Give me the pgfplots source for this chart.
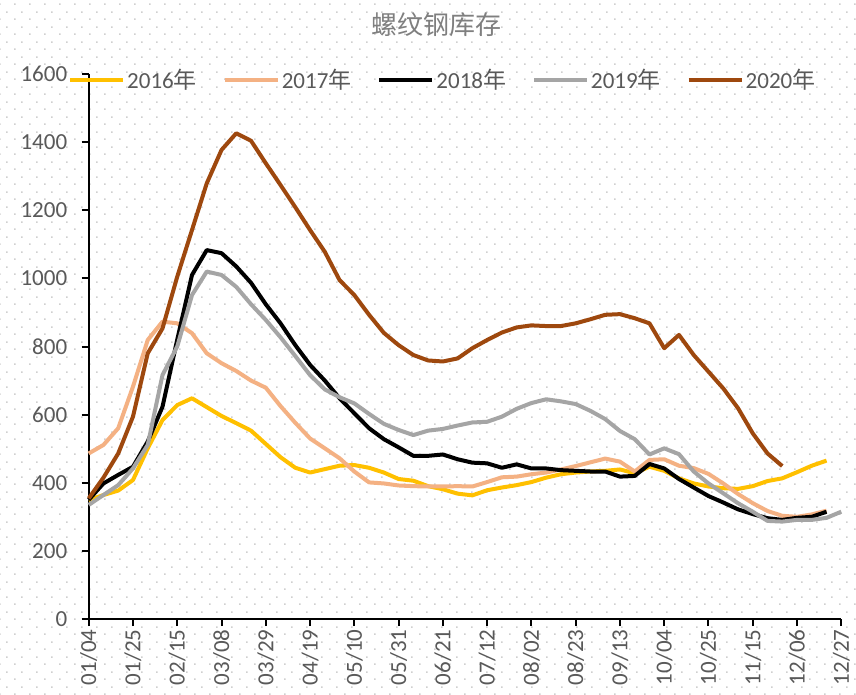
\documentclass[border=0pt]{standalone}
\usepackage{fontspec}
\setmainfont{Carlito}
\newfontfamily\cjk{Noto Sans CJK SC}
\usepackage{pgfplots}
\pgfplotsset{compat=1.18}
\usepackage{pgfplotstable}
\usetikzlibrary{patterns}

\definecolor{c16}{HTML}{FFC000}
\definecolor{c17}{HTML}{F4B183}
\definecolor{c18}{HTML}{000000}
\definecolor{c19}{HTML}{A5A5A5}
\definecolor{c20}{HTML}{9E480E}
\definecolor{labc}{HTML}{595959}
\definecolor{titc}{HTML}{7F7F7F}
\definecolor{dotc}{HTML}{CFCFCF}

% Excel-style dotted chart background
\pgfdeclarepatternformonly{xldots}{\pgfqpoint{0pt}{0pt}}{\pgfqpoint{15pt}{15pt}}{\pgfqpoint{15pt}{15pt}}{%
  \pgfpathrectangle{\pgfqpoint{0pt}{0pt}}{\pgfqpoint{1.8pt}{1.8pt}}%
  \pgfpathrectangle{\pgfqpoint{7.5pt}{7.5pt}}{\pgfqpoint{1.8pt}{1.8pt}}%
  \pgfusepath{fill}}

% weekly inventory, one value per week starting 01/04
\pgfplotstableread[row sep=\\]{v\\349\\364\\377\\408\\501\\584\\628\\648\\622\\596\\575\\553\\514\\475\\444\\430\\440\\450\\452\\444\\430\\411\\406\\390\\381\\368\\363\\378\\386\\393\\402\\415\\425\\430\\433\\435\\439\\428\\447\\435\\413\\398\\389\\384\\382\\390\\405\\413\\431\\450\\465\\}\tA
\pgfplotstableread[row sep=\\]{v\\486\\511\\560\\682\\819\\873\\868\\839\\780\\751\\728\\700\\679\\625\\576\\530\\501\\472\\433\\401\\398\\392\\390\\389\\389\\390\\389\\402\\416\\418\\425\\430\\439\\449\\460\\471\\462\\433\\467\\469\\450\\443\\426\\398\\367\\340\\317\\303\\300\\307\\318\\}\tB
\pgfplotstableread[row sep=\\]{v\\350\\398\\423\\447\\521\\623\\820\\1010\\1083\\1074\\1035\\987\\924\\868\\804\\746\\700\\648\\604\\560\\528\\504\\479\\479\\483\\469\\459\\457\\444\\454\\442\\442\\437\\435\\433\\433\\418\\420\\455\\442\\411\\386\\361\\342\\322\\308\\296\\291\\297\\300\\315\\}\tC
\pgfplotstableread[row sep=\\]{v\\335\\364\\393\\442\\511\\716\\800\\951\\1020\\1010\\975\\924\\878\\827\\772\\716\\674\\651\\633\\602\\573\\555\\540\\553\\558\\568\\577\\579\\594\\617\\634\\645\\639\\631\\611\\587\\552\\528\\483\\501\\484\\433\\398\\369\\340\\315\\288\\286\\291\\291\\297\\315\\}\tD
\pgfplotstableread[row sep=\\]{v\\354\\415\\486\\594\\780\\853\\1005\\1142\\1279\\1377\\1426\\1404\\1338\\1274\\1209\\1142\\1078\\995\\951\\893\\840\\804\\775\\759\\756\\765\\795\\819\\841\\856\\862\\860\\860\\868\\880\\893\\895\\883\\868\\795\\834\\775\\726\\677\\619\\545\\486\\449\\}\tE

\begin{document}
\begin{tikzpicture}
% chart area, in pt, with the plot area's lower left corner at the origin
\fill[white] (-88.7pt,-75pt) rectangle (767.3pt,619pt);
\fill[pattern=xldots, pattern color=dotc] (-88.7pt,-75pt) rectangle (767.3pt,619pt);
\node[text=titc, font=\cjk\fontsize{26}{30}\selectfont] at (347.3pt,594pt) {螺纹钢库存};
\begin{axis}[
  at={(0pt,0pt)}, anchor=south west,
  width=752.6pt, height=545pt, scale only axis,
  xmin=0, xmax=51, ymin=0, ymax=1600,
  axis x line*=bottom, axis y line*=left,
  axis line style={black, line width=2pt},
  xtick={0,3,...,51},
  xticklabels={01/04,01/25,02/15,03/08,03/29,04/19,05/10,05/31,06/21,07/12,08/02,08/23,09/13,10/04,10/25,11/15,12/06,12/27},
  x tick label style={rotate=90, anchor=east},
  ytick={0,200,...,1600},
  y tick label style={xshift=-11pt},
  tick align=outside, major tick length=7pt,
  tick style={black, line width=2pt},
  tick label style={font=\fontsize{23}{25}\selectfont, text=labc},
  /pgf/number format/assume math mode=true,
  /pgf/number format/1000 sep={},
  clip=false,
  legend columns=5,
  legend style={at={(rel axis cs:-0.0275,0.989)}, anchor=west, draw=none, fill=none,
    font=\fontsize{23}{25}\selectfont, text=labc, inner sep=0pt,
    /tikz/every even column/.append style={column sep=24pt}},
  legend image code/.code={\draw[#1] (0pt,0pt) -- (53pt,0pt);},
  every axis plot/.append style={line width=4pt, line join=round, no markers},
]
\addplot[c16] table[x expr=\coordindex, y=v] {\tA};
\addplot[c17] table[x expr=\coordindex, y=v] {\tB};
\addplot[c18] table[x expr=\coordindex, y=v] {\tC};
\addplot[c19] table[x expr=\coordindex, y=v] {\tD};
\addplot[c20] table[x expr=\coordindex, y=v] {\tE};
\legend{2016{\cjk 年},2017{\cjk 年},2018{\cjk 年},2019{\cjk 年},2020{\cjk 年}}
\end{axis}
\end{tikzpicture}
\end{document}
